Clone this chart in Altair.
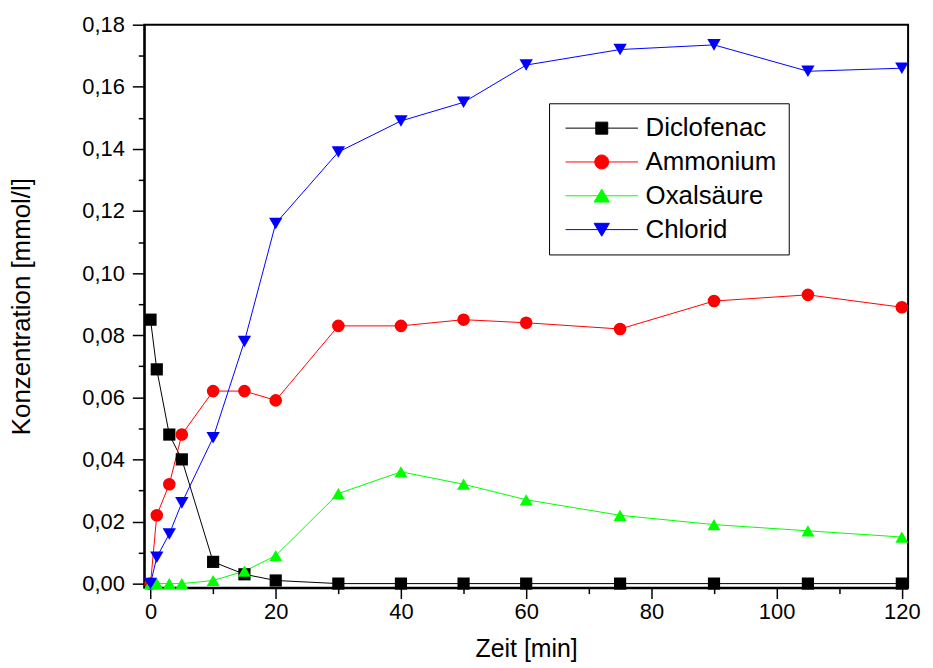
import altair as alt
import pandas as pd

# ---------------- data ----------------
time_min = [0, 1, 3, 5, 10, 15, 20, 30, 40, 50, 60, 75, 90, 105, 120]
diclofenac = [0.085, 0.069, 0.048, 0.040, 0.007, 0.003, 0.001, 0, 0, 0, 0, 0, 0, 0, 0]
ammonium = [0, 0.022, 0.032, 0.048, 0.062, 0.062, 0.059, 0.083, 0.083, 0.085, 0.084, 0.082, 0.091, 0.093, 0.089]
oxalsaeure = [0, 0, 0, 0, 0.001, 0.004, 0.009, 0.029, 0.036, 0.032, 0.027, 0.022, 0.019, 0.017, 0.015]
chlorid = [0, 0.0085, 0.016, 0.026, 0.047, 0.078, 0.116, 0.139, 0.149, 0.155, 0.167, 0.172, 0.1735, 0.165, 0.166]

series_names = ["Diclofenac", "Ammonium", "Oxalsäure", "Chlorid"]
series_values = [diclofenac, ammonium, oxalsaeure, chlorid]
series_colors = ["#000000", "#ff0000", "#00ff00", "#0000ff"]
marker_shapes = ["square", "circle", "triangle-up", "triangle-down"]
marker_sizes = [150, 180, 250, 250]

x_ticks = list(range(0, 121, 10))
y_ticks = [round(i * 0.01, 2) for i in range(19)]

# legend symbols: line segment + marker (custom SVG paths)
legend_line = "M-5.2,0L5.2,0"
legend_shapes = [
    legend_line + "M-0.86,-0.86L0.86,-0.86L0.86,0.86L-0.86,0.86Z",
    legend_line + "M-1,0A1,1 0 1,0 1,0A1,1 0 1,0 -1,0Z",
    legend_line + "M0,-0.95L1.1,0.9L-1.1,0.9Z",
    legend_line + "M0,0.95L1.1,-0.9L-1.1,-0.9Z",
]

rows = []
for name, vals in zip(series_names, series_values):
    for t, v in zip(time_min, vals):
        rows.append({"Zeit": t, "Konz": v, "Serie": name})
df = pd.DataFrame(rows)

FONT = "Liberation Sans"

x_enc = alt.X(
    "Zeit:Q",
    scale=alt.Scale(domain=[-1, 121], nice=False, zero=False),
    axis=alt.Axis(
        title="Zeit [min]",
        values=x_ticks,
        labelExpr="datum.value % 20 == 0 ? datum.label : ''",
        tickSize={"condition": {"test": "datum.value % 20 != 0", "value": 6}, "value": 11},
        labelPadding=3,
        titleFontSize=25,
        titleY=49,
        titleBaseline="top",
    ),
)
y_enc = alt.Y(
    "Konz:Q",
    scale=alt.Scale(domain=[-0.0013, 0.18], nice=False, zero=False),
    axis=alt.Axis(
        title="Konzentration [mmol/l]",
        values=y_ticks,
        labelExpr="round(datum.value*100) % 2 == 0 ? replace(format(datum.value, '.2f'), '.', ',') : ''",
        tickSize={"condition": {"test": "round(datum.value*100) % 2 == 1", "value": 6}, "value": 12},
        labelPadding=8,
        titleFontSize=26,
        titleX=-110,
    ),
)

color_scale = alt.Scale(domain=series_names, range=series_colors)

lines = alt.Chart(df).mark_line(strokeWidth=1).encode(
    x=x_enc,
    y=y_enc,
    color=alt.Color("Serie:N", scale=color_scale, legend=None),
)

points = alt.Chart(df).mark_point(filled=True, opacity=1).encode(
    x=x_enc,
    y=y_enc,
    color=alt.Color("Serie:N", scale=color_scale, legend=None),
    shape=alt.Shape("Serie:N", scale=alt.Scale(domain=series_names, range=marker_shapes), legend=None),
    size=alt.Size("Serie:N", scale=alt.Scale(domain=series_names, range=marker_sizes), legend=None),
)

leg = alt.Legend(
    title=None,
    orient="none",
    legendX=407,
    legendY=79,
    padding=12,
    strokeColor="black",
    fillColor="white",
    labelFont=FONT,
    labelFontSize=26,
    labelColor="black",
    symbolSize=196,
    symbolStrokeWidth=1,
    symbolOffset=28,
    labelOffset=31,
    rowPadding=8,
)

legend_layer = alt.Chart(df).transform_filter("false").mark_point(filled=True, size=196, opacity=1).encode(
    x=x_enc,
    y=y_enc,
    color=alt.Color("Serie:N", scale=color_scale, legend=leg),
    stroke=alt.Stroke("Serie:N", scale=color_scale, legend=leg),
    shape=alt.Shape("Serie:N", scale=alt.Scale(domain=series_names, range=legend_shapes), legend=leg),
)

chart = (
    alt.layer(lines, points, legend_layer)
    .resolve_scale(color="independent", shape="independent", stroke="independent")
    .properties(
        width=768,
        height=566,
        autosize=alt.AutoSizeParams(type="none"),
        padding={"left": 137, "top": 15, "right": 17, "bottom": 77},
    )
    .configure_view(stroke="black", strokeWidth=2)
    .configure_axis(
        grid=False,
        domainColor="black",
        domainWidth=2,
        tickColor="black",
        tickWidth=1.5,
        labelFont=FONT,
        labelFontSize=22,
        labelColor="black",
        titleFont=FONT,
        titleFontWeight="normal",
        titleColor="black",
    )
)

chart.save("out.html", embed_options={"renderer": "svg", "actions": False})
